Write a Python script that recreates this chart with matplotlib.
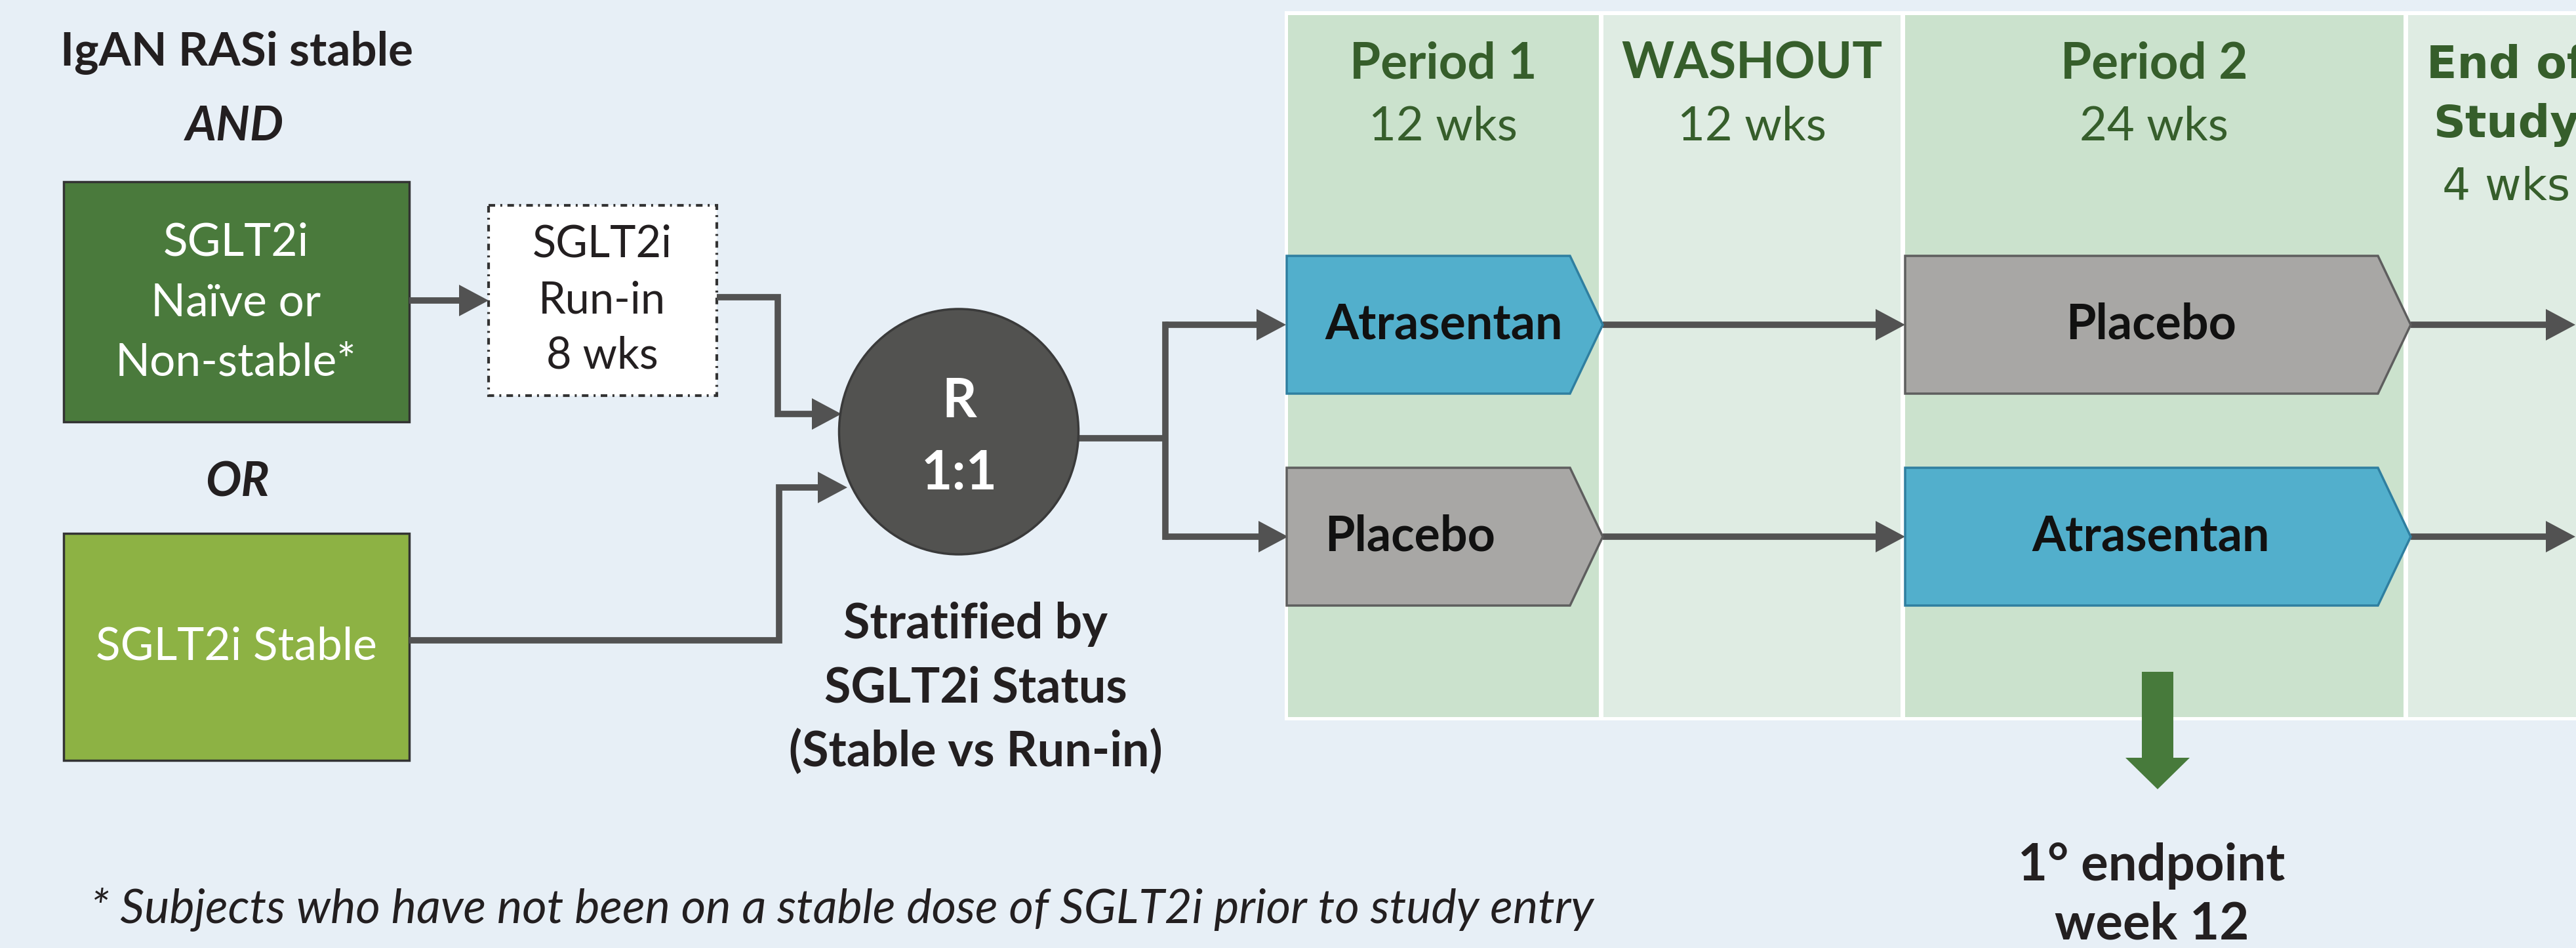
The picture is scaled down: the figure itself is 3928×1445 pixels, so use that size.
import matplotlib
matplotlib.use("Agg")
import matplotlib.pyplot as plt
from matplotlib.patches import Rectangle, Polygon, Ellipse

# ---- content ----
title_top = "IgAN RASi stable"
joiners = ["AND", "OR"]
naive_lines = ["SGLT2i", "Naïve or", "Non-stable*"]
runin_lines = ["SGLT2i", "Run-in", "8 wks"]
stable_label = "SGLT2i Stable"
rand_lines = ["R", "1:1"]
strat_lines = ["Stratified by", "SGLT2i Status", "(Stable vs Run-in)"]
period_titles = ["Period 1", "WASHOUT", "Period 2"]
period_lengths = ["12 wks", "12 wks", "24 wks"]
eos_lines = ["End of", "Study", "4 wks"]
arm_row1 = ["Atrasentan", "Placebo"]
arm_row2 = ["Placebo", "Atrasentan"]
endpoint_lines = ["1° endpoint", "week 12"]
footnote = "* Subjects who have not been on a stable dose of SGLT2i prior to study entry"

# ---- colours ----
BG = "#E7EFF6"
DARK_GREEN = "#4A7A3C"
LIGHT_GREEN = "#8DB244"
CIRCLE = "#525250"
COL_DARK = "#CBE2CD"
COL_LIGHT = "#DFECE3"
HEAD_GREEN = "#365E2B"
BLUE = "#52AFCC"
BLUE_EDGE = "#2F7FA0"
GREY = "#A8A7A5"
GREY_EDGE = "#5E5E5E"
ARROW = "#525252"
ARROW_GREEN = "#477A3B"

W, H = 3928, 1445
FONT = "Lato"
LW = 7.0  # connector width in points (~10 px)

fig = plt.figure(figsize=(W / 100, H / 100), dpi=100)
fig.patch.set_facecolor(BG)
ax = fig.add_axes([0, 0, 1, 1])
ax.set_xlim(0, W)
ax.set_ylim(H, 0)
ax.axis("off")
ax.set_facecolor(BG)


def txt(x, y, s, size, color="#231F20", weight="normal", style="normal", ha="center", family=FONT):
    ax.text(x, y, s, fontsize=size, color=color, fontweight=weight, fontstyle=style,
            ha=ha, va="center", family=family, zorder=10)


def connector(pts, head=True, hl=45, hw=24):
    xs = [p[0] for p in pts]
    ys = [p[1] for p in pts]
    if head:
        x1, y1 = xs[-1], ys[-1]
        x0, y0 = xs[-2], ys[-2]
        dx, dy = x1 - x0, y1 - y0
        n = (dx ** 2 + dy ** 2) ** 0.5
        ux, uy = dx / n, dy / n
        bx, by = x1 - ux * hl, y1 - uy * hl
        xs[-1], ys[-1] = bx + ux * 2, by + uy * 2
        ax.add_patch(Polygon([(x1, y1), (bx - uy * hw, by + ux * hw), (bx + uy * hw, by - ux * hw)],
                             closed=True, facecolor=ARROW, edgecolor="none", zorder=5))
    ax.plot(xs, ys, color=ARROW, lw=LW, solid_capstyle="butt", solid_joinstyle="miter", zorder=4)


def pentagon(x0, x1, yc, label, face, edge, label_x=None, ha="center", depth=50, half=105):
    pts = [(x0, yc - half), (x1 - depth, yc - half), (x1, yc), (x1 - depth, yc + half), (x0, yc + half)]
    ax.add_patch(Polygon(pts, closed=True, facecolor=face, edgecolor=edge, lw=2.5, zorder=6))
    if label_x is None:
        label_x = (x0 + x1 - depth) / 2
    txt(label_x, yc, label, 53, color="#111111", weight="bold", ha=ha)


# ---- left side ----
txt(361, 80, title_top, 51, weight="bold")
txt(358, 194, joiners[0], 52, weight="bold", style="italic")
txt(362, 736, joiners[1], 52, weight="bold", style="italic")

ax.add_patch(Rectangle((97, 277), 527, 366, facecolor=DARK_GREEN, edgecolor="#333333", lw=2.5, zorder=3))
for y, s in zip([370, 462, 553], naive_lines):
    txt(360, y, s, 50, color="white")

ax.add_patch(Rectangle((745, 313), 348, 290, facecolor="white", edgecolor="#333333", lw=3,
                       linestyle=(0, (2.4, 1.9, 0.7, 1.9)), zorder=3))
for y, s in zip([372, 458, 542], runin_lines):
    txt(918, y, s, 48)

ax.add_patch(Rectangle((97, 813), 527, 346, facecolor=LIGHT_GREEN, edgecolor="#333333", lw=2.5, zorder=3))
txt(360, 986, stable_label, 50, color="white")

# randomisation circle
ax.add_patch(Ellipse((1462, 658), 365, 374, facecolor=CIRCLE, edgecolor="#3A3A3A", lw=2.5, zorder=6))
txt(1463, 612, rand_lines[0], 59, color="white", weight="bold")
txt(1463, 722, rand_lines[1], 59, color="white", weight="bold")

for y, s in zip([952, 1049, 1146], strat_lines):
    txt(1488, y, s, 53, weight="bold")

connector([(624, 458), (745, 458)])
connector([(1093, 453), (1186, 453), (1186, 631), (1283, 631)])
connector([(624, 976), (1188, 976), (1188, 743), (1292, 743)])

# ---- schedule table ----
ax.add_patch(Rectangle((1959, 17), W - 1959 + 10, 1098 - 17, facecolor="white", edgecolor="none", zorder=1))
col_edges = [(1964, 2438), (2445, 2898), (2905, 3665), (3672, W + 10)]
col_faces = [COL_DARK, COL_LIGHT, COL_DARK, COL_LIGHT]
for (a, b), fc in zip(col_edges, col_faces):
    ax.add_patch(Rectangle((a, 23), b - a, 1093 - 23, facecolor=fc, edgecolor="none", zorder=2))

for (a, b), t, l in zip(col_edges[:3], period_titles, period_lengths):
    cx = (a + b) / 2
    txt(cx, 97, t, 55, color=HEAD_GREEN, weight="bold")
    txt(cx, 193, l, 52, color=HEAD_GREEN)

txt(3822, 100, eos_lines[0], 49, color=HEAD_GREEN, weight="bold", family="DejaVu Sans")
txt(3822, 191, eos_lines[1], 49, color=HEAD_GREEN, weight="bold", family="DejaVu Sans")
txt(3822, 286, eos_lines[2], 49, color=HEAD_GREEN, family="DejaVu Sans")

# branch from randomisation
ax.plot([1645, 1777], [668, 668], color=ARROW, lw=LW, solid_capstyle="butt", zorder=4)
ax.plot([1777, 1777], [495, 818], color=ARROW, lw=LW, solid_capstyle="projecting", zorder=4)
connector([(1777, 495), (1961, 495)])
connector([(1777, 818), (1964, 818)])

# treatment arms
fills = {"Atrasentan": (BLUE, BLUE_EDGE), "Placebo": (GREY, GREY_EDGE)}
for yc, arms in zip([495, 818], [arm_row1, arm_row2]):
    f, e = fills[arms[0]]
    pentagon(1962, 2444, yc, arms[0], f, e, label_x=2020, ha="left")
    f, e = fills[arms[1]]
    pentagon(2905, 3676, yc, arms[1], f, e, label_x=3280)
    connector([(2444, yc), (2905, yc)])
    connector([(3676, yc), (3927, yc)])

# primary endpoint arrow
ax.add_patch(Polygon([(3266, 1024), (3314, 1024), (3314, 1155), (3339, 1155), (3290, 1203),
                      (3241, 1155), (3266, 1155)], closed=True, facecolor=ARROW_GREEN,
                     edgecolor="none", zorder=7))
txt(3281, 1320, endpoint_lines[0], 56, weight="bold")
txt(3281, 1410, endpoint_lines[1], 56, weight="bold")

ax.text(138, 1386, footnote, fontsize=52, color="#231F20", fontstyle="italic", ha="left",
        va="center", family=FONT, zorder=10)

fig.savefig("out.png", dpi=100, facecolor=BG)
